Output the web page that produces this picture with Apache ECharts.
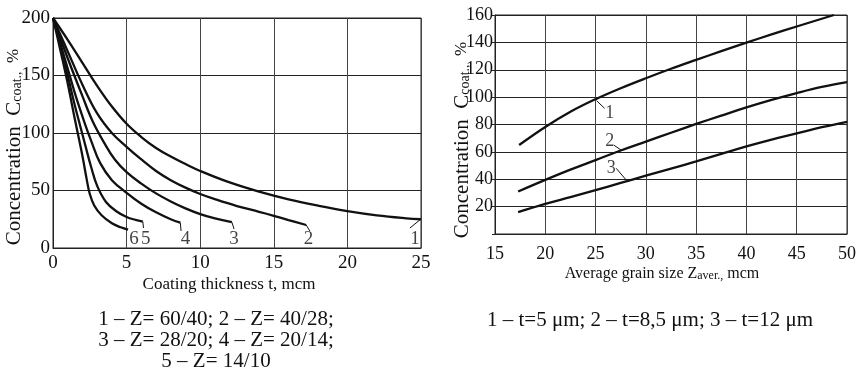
<!DOCTYPE html>
<html><head><meta charset="utf-8">
<script src="https://cdn.jsdelivr.net/npm/echarts@6/dist/echarts.min.js"></script>
<style>html,body{margin:0;padding:0;background:#fff}#c{width:859px;height:374px}</style>
</head><body><div id="c"></div>
<script>
// ---------- Left chart: concentration vs coating thickness ----------
const leftXTicks = [0, 5, 10, 15, 20, 25];
const leftYTicks = [0, 50, 100, 150, 200];
const leftCurve1 = [[0,200],[1,181],[2,161],[3,141],[4,123],[5,108],[6,96.5],[7,87],[8,79.5],[9,73],[10,67],[12,57],[14,49],[16,42.3],[18,36.8],[20,32],[22,28.3],[24,25.8],[25,25]];
const leftCurve2 = [[0,200],[1,171],[2,142],[3,117],[4,100],[5,88],[6,77],[7,67],[8,59],[9,52.5],[10,47],[11,42.5],[12.5,36.5],[14,31.5],[15,28],[16,24.3],[17.2,20]];
const leftCurve3 = [[0,200],[1,165],[2,132],[2.7,110],[3.5,91],[4.2,77],[5,66],[6,56],[7,47.5],[8,40.5],[9,34.5],[10,29.5],[11,25.8],[12.15,22.5]];
const leftCurve4 = [[0,200],[0.5,178],[1,156],[1.5,134],[2.17,108],[2.6,93],[3.2,74],[4,59],[5,48],[6,38.5],[7,31],[8,25],[8.65,22]];
const leftCurve5 = [[0,200],[0.5,176],[1,150],[1.5,123],[1.83,107],[2.2,89],[2.6,70],[3,54],[3.6,40],[4.3,32],[5,27],[5.6,24.5],[6.1,23]];
const leftCurve6 = [[0,200],[0.5,172],[1,143],[1.5,111],[2,80],[2.3,59],[2.5,47],[2.8,37],[3.3,28.5],[4,21.5],[4.6,18],[5.1,16]];
const leftCurves = [leftCurve1, leftCurve2, leftCurve3, leftCurve4, leftCurve5, leftCurve6];
const leftCurveNames = ['1', '2', '3', '4', '5', '6'];
const leftLabelPos = [[24.6,7.5],[17.35,7.5],[12.3,7.5],[9.0,7.5],[6.3,7.5],[5.5,7.5]];
const leftLeaders = [
  [[25,25.2],[24.25,17.4]],
  [[17.2,20],[17.45,14.8]],
  [[12.15,22.5],[12.3,16.5]],
  [[8.65,22],[8.7,14.8]],
  [[6.1,23],[6.15,17.4]]
];

// ---------- Right chart: concentration vs grain size ----------
const rightXTicks = [15, 20, 25, 30, 35, 40, 45, 50];
const rightYTicks = [20, 40, 60, 80, 100, 120, 140, 160];
const rightCurve1 = [[17.4,65],[20,78.2],[22.5,89.3],[25,98.5],[27.5,106.5],[30,113.8],[32.5,120.7],[35,127.2],[37.5,133.6],[40,139.8],[42.5,145.8],[45,151.6],[48.7,160]];
const rightCurve2 = [[17.3,31],[20,39.5],[22.5,47],[25,54],[27.5,61],[30,67.5],[32.5,74],[35,80.4],[37.5,86.5],[40,92.5],[42.5,98],[45,103],[47.5,107.5],[50,111]];
const rightCurve3 = [[17.3,16],[20,22],[22.5,27],[25,32],[27.5,37.3],[30,42.6],[32.5,47.8],[35,53],[37.5,58.5],[40,64],[42.5,69],[45,73.5],[47.5,78],[50,82]];
const rightCurves = [rightCurve1, rightCurve2, rightCurve3];
const rightCurveNames = ['1', '2', '3'];
const rightLabelPos = [[26.4,88],[26.4,67.5],[26.55,48]];
const rightLeaders = [
  [[25.1,97.4],[25.9,91.8]],
  [[26.8,65],[27.55,61.3]],
  [[27.05,48],[28.05,39.4]]
];

// ---------- Texts ----------
const leftXTitle = 'Coating thickness t, mcm';
const rightXTitleMain = 'Average grain size Z';
const rightXTitleSub = 'aver.,';
const rightXTitleEnd = ' mcm';
const yTitleMain = 'Concentration  C';
const yTitleSub = 'coat.,';
const yTitleEnd = '  %';
const leftCaption = ['1 – Z= 60/40; 2 – Z= 40/28;', '3 – Z= 28/20; 4 – Z= 20/14;', '5 – Z= 14/10'];
const rightCaption = '1 – t=5 μm; 2 – t=8,5 μm; 3 – t=12 μm';

const FONT = 'Liberation Serif';
const INK = '#111';

function lineSeries(data, xi, width) {
  return {
    type: 'line', xAxisIndex: xi, yAxisIndex: xi, data: data,
    smooth: 0.4, symbol: 'none', silent: true,
    lineStyle: { color: INK, width: width }
  };
}
function leaderSeries(data, xi) {
  return {
    type: 'line', xAxisIndex: xi, yAxisIndex: xi, data: data,
    smooth: false, symbol: 'none', silent: true,
    lineStyle: { color: INK, width: 1 }
  };
}
function labelSeries(pos, names, xi, size) {
  return {
    type: 'scatter', xAxisIndex: xi, yAxisIndex: xi, symbolSize: 1, silent: true,
    itemStyle: { color: 'rgba(0,0,0,0)' },
    data: pos.map((p, i) => ({ value: p, name: names[i] })),
    label: { show: true, position: 'inside', formatter: p => p.name,
      fontFamily: FONT, fontSize: size, color: INK }
  };
}

const series = [];
leftCurves.forEach(c => series.push(lineSeries(c, 0, 2.3)));
leftLeaders.forEach(l => series.push(leaderSeries(l, 0)));
series.push(labelSeries(leftLabelPos, leftCurveNames, 0, 19));
rightCurves.forEach(c => series.push(lineSeries(c, 1, 2.3)));
rightLeaders.forEach(l => series.push(leaderSeries(l, 1)));
series.push(labelSeries(rightLabelPos, rightCurveNames, 1, 18));

const axisLabelStyle = (size) => ({ fontFamily: FONT, fontSize: size, color: INK });

const option = {
  animation: false,
  backgroundColor: '#fff',
  grid: [
    { left: 53, top: 18, width: 368, height: 230, show: true, borderColor: '#222', borderWidth: 1 },
    { left: 495, top: 15, width: 353, height: 219, show: true, borderColor: '#222', borderWidth: 1 }
  ],
  xAxis: [
    { type: 'value', gridIndex: 0, min: leftXTicks[0], max: leftXTicks[leftXTicks.length - 1], interval: 5,
      axisLine: { show: true, lineStyle: { color: '#222', width: 1 } }, axisTick: { show: false },
      axisLabel: Object.assign({ margin: 6 }, axisLabelStyle(19)),
      splitLine: { show: true, lineStyle: { color: '#444', width: 1 } } },
    { type: 'value', gridIndex: 1, min: rightXTicks[0], max: rightXTicks[rightXTicks.length - 1], interval: 5,
      axisLine: { show: true, lineStyle: { color: '#222', width: 1 } }, axisTick: { show: false },
      axisLabel: Object.assign({ margin: 11 }, axisLabelStyle(18)),
      splitLine: { show: true, lineStyle: { color: '#444', width: 1 } } }
  ],
  yAxis: [
    { type: 'value', gridIndex: 0, min: leftYTicks[0], max: leftYTicks[leftYTicks.length - 1], interval: 50,
      axisLine: { show: true, lineStyle: { color: '#222', width: 1 } }, axisTick: { show: false },
      axisLabel: Object.assign({ margin: 3 }, axisLabelStyle(19)),
      splitLine: { show: true, lineStyle: { color: '#222', width: 1 } } },
    { type: 'value', gridIndex: 1, min: 0, max: rightYTicks[rightYTicks.length - 1], interval: 20,
      axisLine: { show: true, lineStyle: { color: '#222', width: 1 } },
      axisTick: { show: true, length: 3, lineStyle: { color: '#222' } },
      axisLabel: Object.assign({ margin: 2, formatter: v => (rightYTicks.indexOf(v) >= 0 ? String(v) : '') }, axisLabelStyle(18)),
      splitLine: { show: true, lineStyle: { color: '#222', width: 1 } } }
  ],
  graphic: [
    { type: 'text', x: 14, y: 147, rotation: Math.PI / 2, silent: true,
      style: { text: '{a|' + yTitleMain + '}{b|' + yTitleSub + '}{c|' + yTitleEnd + '}', align: 'center', verticalAlign: 'middle',
        rich: { a: { fontFamily: FONT, fontSize: 21, fill: INK }, b: { fontFamily: FONT, fontSize: 14, fill: INK, verticalAlign: 'bottom' }, c: { fontFamily: FONT, fontSize: 17, fill: INK } } } },
    { type: 'text', x: 462, y: 140, rotation: Math.PI / 2, silent: true,
      style: { text: '{a|' + yTitleMain + '}{b|' + yTitleSub + '}{c|' + yTitleEnd + '}', align: 'center', verticalAlign: 'middle',
        rich: { a: { fontFamily: FONT, fontSize: 21, fill: INK }, b: { fontFamily: FONT, fontSize: 14, fill: INK, verticalAlign: 'bottom' }, c: { fontFamily: FONT, fontSize: 17, fill: INK } } } },
    { type: 'text', x: 229, y: 285, silent: true,
      style: { text: leftXTitle, align: 'center', verticalAlign: 'middle', fontFamily: FONT, fontSize: 17, fill: INK } },
    { type: 'text', x: 662, y: 274, silent: true,
      style: { text: '{a|' + rightXTitleMain + '}{b|' + rightXTitleSub + '}{a|' + rightXTitleEnd + '}', align: 'center', verticalAlign: 'middle',
        rich: { a: { fontFamily: FONT, fontSize: 16, fill: INK }, b: { fontFamily: FONT, fontSize: 12, fill: INK, verticalAlign: 'bottom' } } } },
    { type: 'text', x: 216, y: 319, silent: true,
      style: { text: leftCaption[0], align: 'center', verticalAlign: 'middle', fontFamily: FONT, fontSize: 21, fill: '#111' } },
    { type: 'text', x: 216, y: 340, silent: true,
      style: { text: leftCaption[1], align: 'center', verticalAlign: 'middle', fontFamily: FONT, fontSize: 21, fill: '#111' } },
    { type: 'text', x: 216, y: 361, silent: true,
      style: { text: leftCaption[2], align: 'center', verticalAlign: 'middle', fontFamily: FONT, fontSize: 21, fill: '#111' } },
    { type: 'text', x: 650, y: 320, silent: true,
      style: { text: rightCaption, align: 'center', verticalAlign: 'middle', fontFamily: FONT, fontSize: 21, fill: '#111' } }
  ],
  series: series
};

const chart = echarts.init(document.getElementById('c'), null, { renderer: 'canvas' });
chart.setOption(option);
</script>
</body></html>
